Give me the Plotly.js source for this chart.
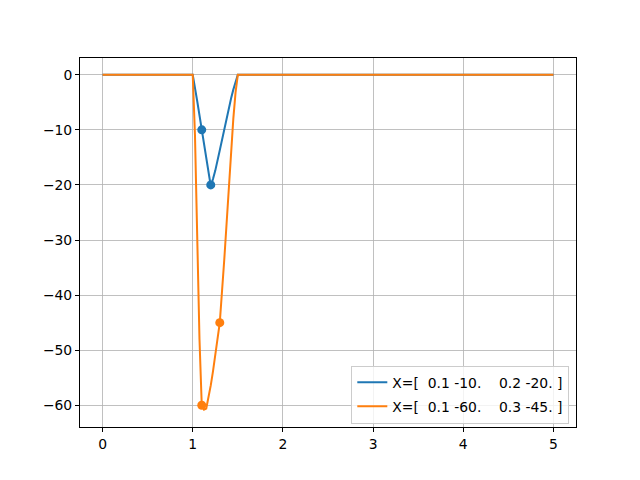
<!DOCTYPE html>
<html>
<head>
<meta charset="utf-8">
<script src="https://cdn.plot.ly/plotly-3.0.1.min.js"></script>
<style>
  html, body { margin: 0; padding: 0; background: #ffffff; }
  #chart { width: 640px; height: 480px; }
</style>
</head>
<body>
<div id="chart"></div>
<script>
// Curve samples
const blueX = [0, 1, 1.05, 1.1, 1.15, 1.2, 1.225, 1.25, 1.3, 1.35, 1.4, 1.425, 1.45, 1.475, 1.5, 5];
const blueY = [0, 0, -4.8, -10, -15.0, -20.2, -18.9, -17.4, -13.7, -9.7, -6.0, -4.3, -2.7, -1.2, 0, 0];

const orangeX = [0, 1, 1.025, 1.05, 1.075, 1.1, 1.125, 1.15, 1.175, 1.2, 1.225, 1.25, 1.275, 1.3, 1.35, 1.4, 1.45, 1.475, 1.5, 5];
const orangeY = [0, 0, -11, -29.5, -48, -60, -60.8, -60.6, -58.8, -56.4, -53.8, -51.0, -48.0, -45, -33.5, -20.5, -8, -3.2, 0, 0];

// Marked control points
const bluePtsX = [1.1, 1.2];
const bluePtsY = [-10, -20];
const orangePtsX = [1.1, 1.3];
const orangePtsY = [-60, -45];

const legendNames = [
  "X=[  0.1 -10.    0.2 -20. ]",
  "X=[  0.1 -60.    0.3 -45. ]"
];

const xTicks = [0, 1, 2, 3, 4, 5];
const yTicks = [0, -10, -20, -30, -40, -50, -60];

const BLUE = "#1f77b4", ORANGE = "#ff7f0e";
const nb = s => s.replace(/ /g, "\u00a0");

const traces = [
  { x: blueX, y: blueY, type: "scatter", mode: "lines", name: nb(legendNames[0]),
    legendgroup: "a", line: { color: BLUE, width: 2 } },
  { x: bluePtsX, y: bluePtsY, type: "scatter", mode: "markers", showlegend: false,
    marker: { color: BLUE, size: 9 } },
  { x: orangeX, y: orangeY, type: "scatter", mode: "lines", name: nb(legendNames[1]),
    legendgroup: "b", line: { color: ORANGE, width: 2 } },
  { x: orangePtsX, y: orangePtsY, type: "scatter", mode: "markers", showlegend: false,
    marker: { color: ORANGE, size: 9 } }
];

const axisCommon = {
  showgrid: true, gridcolor: "#b0b0b0", gridwidth: 0.8,
  zeroline: false,
  showline: true, mirror: true, linecolor: "#000000", linewidth: 1,
  ticks: "outside", ticklen: 4, tickwidth: 1, tickcolor: "#000000",
  tickfont: { family: "DejaVu Sans", size: 13.9, color: "#000000" }
};

const layout = {
  width: 640, height: 480,
  paper_bgcolor: "#ffffff", plot_bgcolor: "#ffffff",
  margin: { l: 80, r: 64, t: 58, b: 53, pad: 0 },
  font: { family: "DejaVu Sans", size: 13.9, color: "#000000" },
  xaxis: Object.assign({}, axisCommon, {
    range: [-0.25, 5.25], tickmode: "array", tickvals: xTicks,
    ticktext: xTicks.map(String)
  }),
  yaxis: Object.assign({}, axisCommon, {
    range: [-63.95, 3.045], tickmode: "array", tickvals: yTicks,
    ticktext: yTicks.map(v => v < 0 ? "\u2212" + Math.abs(v) : String(v))
  }),
  showlegend: true,
  legend: {
    x: 0.9865, xanchor: "right", y: 0.009, yanchor: "bottom",
    bgcolor: "rgba(255,255,255,0.8)", bordercolor: "#cccccc", borderwidth: 1,
    font: { family: "DejaVu Sans", size: 13.9, color: "#000000" },
    traceorder: "grouped", tracegroupgap: 3
  }
};

Plotly.newPlot("chart", traces, layout, { staticPlot: true, displayModeBar: false });
</script>
</body>
</html>
